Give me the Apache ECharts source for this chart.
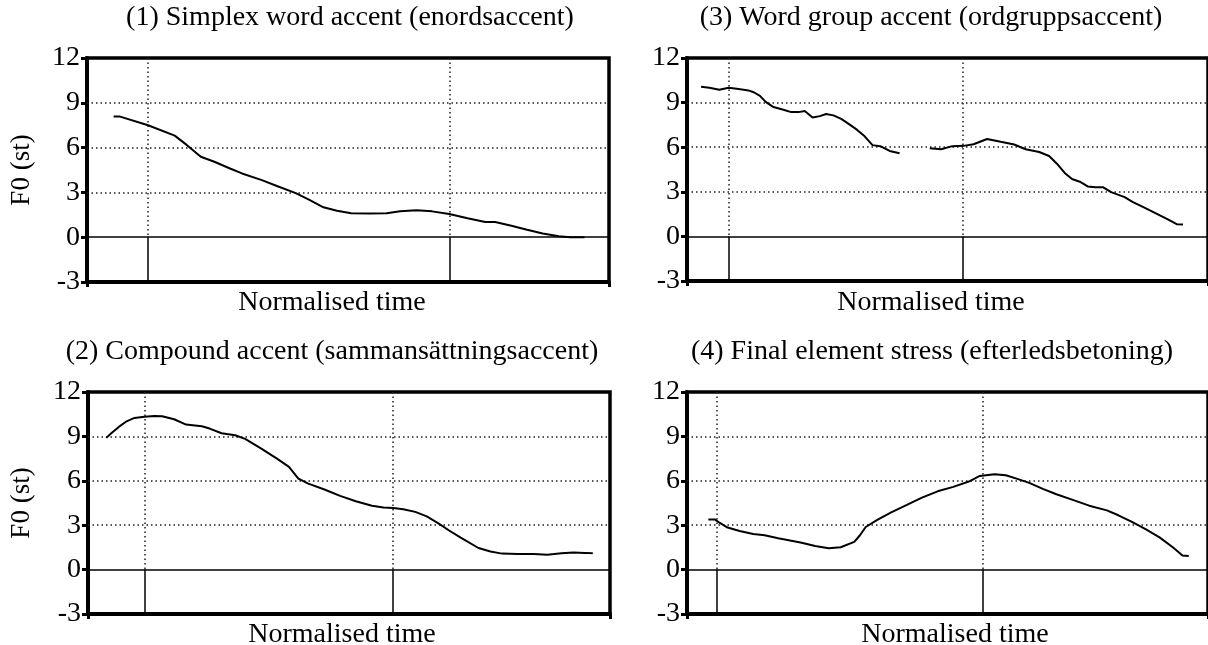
<!DOCTYPE html>
<html>
<head>
<meta charset="utf-8">
<script src="https://cdn.jsdelivr.net/npm/echarts@6/dist/echarts.min.js"></script>
<style>
html,body{margin:0;padding:0;background:#fff;}
#c{width:1208px;height:645px;}
</style>
</head>
<body>
<div id="c"></div>
<script>
// ---- Data ----
const panelTitles = [
  "(1) Simplex word accent (enordsaccent)",
  "(3) Word group accent (ordgruppsaccent)",
  "(2) Compound accent (sammansättningsaccent)",
  "(4) Final element stress (efterledsbetoning)"
];
const xAxisName = "Normalised time";
const yAxisName = "F0 (st)";
const yTickMin = -3, yTickMax = 12, yTickStep = 3;
const dottedGridValues = [3, 6, 9];

// Panel 1: Simplex word accent (time in % of normalised duration, F0 in st)
const p1X = [5.1, 6.2, 11.7, 16.8, 19.1, 21.8, 24.4, 27.4, 29.7, 33.5, 36.5, 40.0, 42.6, 45.3, 47.9, 50.6, 54.0, 57.4, 60.0, 63.1, 66.1, 69.4, 72.9, 76.3, 78.2, 81.3, 84.3, 87.3, 90.4, 92.6, 95.3];
const p1Y = [8.09, 8.09, 7.5, 6.8, 6.18, 5.39, 5.05, 4.6, 4.27, 3.82, 3.41, 2.95, 2.5, 2.0, 1.77, 1.61, 1.59, 1.61, 1.73, 1.8, 1.73, 1.55, 1.27, 1.02, 1.02, 0.77, 0.5, 0.25, 0.07, 0.0, 0.0];
const p1Marks = [11.7, 69.4];

// Panel 3: Word group accent (gap marked by '-')
const p3X = [2.7, 4.3, 6.2, 8.0, 9.9, 11.8, 12.9, 14.0, 15.1, 16.6, 18.5, 20.0, 21.4, 22.6, 24.1, 25.5, 26.7, 28.1, 29.6, 31.1, 32.6, 34.1, 35.6, 37.1, 38.9, 40.8, 43.7,
             46.6, 48.8, 50.9, 53.1, 55.0, 57.6, 60.2, 62.8, 65.0, 67.6, 69.5, 71.0, 72.5, 73.9, 75.4, 76.9, 78.4, 79.9, 81.4, 84.0, 85.5, 87.7, 90.0, 92.2, 94.0, 95.2];
const p3Y = [10.07, 10.0, 9.86, 10.0, 9.91, 9.82, 9.68, 9.45, 9.05, 8.7, 8.52, 8.36, 8.36, 8.43, 8.0, 8.09, 8.23, 8.14, 7.91, 7.55, 7.18, 6.73, 6.14, 6.07, 5.75, 5.59, '-',
             5.93, 5.86, 6.07, 6.09, 6.2, 6.55, 6.36, 6.18, 5.86, 5.68, 5.41, 4.89, 4.27, 3.86, 3.68, 3.36, 3.3, 3.3, 2.98, 2.64, 2.32, 1.95, 1.55, 1.16, 0.82, 0.8];
const p3Marks = [8.0, 52.9];

// Panel 2: Compound accent
const p2X = [3.5, 4.4, 5.9, 7.4, 8.9, 10.8, 12.7, 14.2, 16.5, 18.8, 21.8, 23.3, 25.6, 28.2, 30.1, 33.2, 36.2, 38.5, 40.3, 42.2, 45.3, 48.3, 51.3, 54.4, 56.6, 58.5, 60.4, 62.7, 64.9, 67.2, 69.1, 71.4, 74.8, 77.1, 79.3, 82.4, 85.4, 88.0, 90.7, 93.0, 95.2, 96.7];
const p2Y = [8.9, 9.19, 9.64, 10.02, 10.25, 10.32, 10.38, 10.36, 10.16, 9.8, 9.68, 9.53, 9.21, 9.08, 8.83, 8.18, 7.5, 6.94, 6.15, 5.81, 5.41, 4.98, 4.62, 4.32, 4.19, 4.17, 4.08, 3.9, 3.6, 3.11, 2.66, 2.16, 1.46, 1.22, 1.08, 1.06, 1.06, 1.01, 1.1, 1.15, 1.13, 1.1];
const p2Marks = [10.8, 58.4];

// Panel 4: Final element stress
const p4X = [4.1, 5.4, 6.3, 7.8, 10.1, 12.7, 14.9, 17.5, 19.8, 22.0, 24.6, 27.2, 29.5, 32.1, 33.2, 34.3, 36.6, 39.2, 42.2, 45.1, 48.1, 51.1, 54.1, 56.2, 59.0, 61.2, 63.4, 65.7, 68.3, 70.9, 73.9, 77.2, 80.6, 82.8, 85.4, 88.1, 90.7, 93.3, 95.1, 96.3];
const p4Y = [3.38, 3.38, 3.15, 2.84, 2.61, 2.41, 2.32, 2.12, 1.96, 1.82, 1.6, 1.44, 1.51, 1.87, 2.32, 2.88, 3.38, 3.87, 4.37, 4.86, 5.29, 5.59, 5.95, 6.33, 6.44, 6.37, 6.13, 5.86, 5.45, 5.09, 4.73, 4.32, 4.0, 3.67, 3.22, 2.72, 2.18, 1.49, 0.95, 0.92];
const p4Marks = [5.8, 56.7];

// ---- Layout ----
const FONT = "'Liberation Serif','Times New Roman',serif";
const grids = [
  {left: 87,  top: 58,  width: 522, height: 224},
  {left: 687, top: 58,  width: 521, height: 223},
  {left: 88,  top: 392, width: 522, height: 222},
  {left: 687, top: 392, width: 521, height: 222}
];
const titlePos = [[350, 18], [931, 18], [332, 352], [932, 352]];
const xNamePos = [[332, 303], [931, 303], [342, 635], [955, 635]];
const yNamePos = [[22, 170], [22, 503]];

const panels = [
  {x: p1X, y: p1Y, marks: p1Marks},
  {x: p3X, y: p3Y, marks: p3Marks},
  {x: p2X, y: p2Y, marks: p2Marks},
  {x: p4X, y: p4Y, marks: p4Marks}
];

const option = {
  animation: false,
  backgroundColor: '#fff',
  grid: grids.map(g => Object.assign({show: true, borderColor: '#000', borderWidth: 3.5, backgroundColor: 'transparent'}, g)),
  title: [],
  xAxis: [],
  yAxis: [],
  series: [],
  graphic: []
};

panelTitles.forEach((t, i) => {
  option.title.push({
    text: t, left: titlePos[i][0], top: titlePos[i][1], textAlign: 'center', textVerticalAlign: 'middle', padding: 0,
    textStyle: {fontFamily: FONT, fontSize: 28, fontWeight: 'normal', color: '#000'}
  });
  option.title.push({
    text: xAxisName, left: xNamePos[i][0], top: xNamePos[i][1], textAlign: 'center', textVerticalAlign: 'middle', padding: 0,
    textStyle: {fontFamily: FONT, fontSize: 28, fontWeight: 'normal', color: '#000'}
  });
});

yNamePos.forEach(p => {
  option.graphic.push({
    type: 'text', x: p[0], y: p[1], rotation: Math.PI / 2,
    style: {text: yAxisName, font: '27px ' + FONT, fill: '#000', align: 'center', verticalAlign: 'middle'}
  });
});

panels.forEach((p, i) => {
  option.xAxis.push({
    type: 'value', gridIndex: i, min: 0, max: 100, interval: 100,
    axisLine: {show: true, onZero: false, lineStyle: {color: '#000', width: 4}},
    axisTick: {show: true, length: 5, lineStyle: {color: '#000', width: 3}},
    axisLabel: {show: false},
    splitLine: {show: false}
  });
  option.yAxis.push({
    type: 'value', gridIndex: i, min: yTickMin, max: yTickMax, interval: yTickStep,
    axisLine: {show: true, onZero: false, lineStyle: {color: '#000', width: 4}},
    axisTick: {show: true, length: 6, lineStyle: {color: '#000', width: 3}},
    axisLabel: {show: true, margin: 7, fontFamily: FONT, fontSize: 28, color: '#000'},
    splitLine: {show: false}
  });
  const data = p.x.map((xv, k) => [xv, p.y[k]]);
  const mlData = [];
  dottedGridValues.forEach(v => {
    mlData.push([{coord: [0, v]}, {coord: [100, v], lineStyle: {type: [1.5, 3], width: 1.5, color: '#222'}}]);
  });
  mlData.push([{coord: [0, 0]}, {coord: [100, 0], lineStyle: {type: 'solid', width: 1.5, color: '#000'}}]);
  p.marks.forEach(m => {
    mlData.push([{coord: [m, yTickMax]}, {coord: [m, 0], lineStyle: {type: [1.5, 3], width: 1.5, color: '#222'}}]);
    mlData.push([{coord: [m, 0]}, {coord: [m, yTickMin], lineStyle: {type: 'solid', width: 1.5, color: '#000'}}]);
  });
  option.series.push({
    type: 'line', xAxisIndex: i, yAxisIndex: i, data: data,
    showSymbol: false, symbol: 'none', connectNulls: false, smooth: false,
    lineStyle: {color: '#000', width: 2},
    z: 5,
    markLine: {
      silent: true, symbol: ['none', 'none'], label: {show: false},
      lineStyle: {color: '#000'}, animation: false, z: 2,
      data: mlData
    }
  });
});

const chart = echarts.init(document.getElementById('c'), null, {renderer: 'canvas'});
chart.setOption(option);
</script>
</body>
</html>
